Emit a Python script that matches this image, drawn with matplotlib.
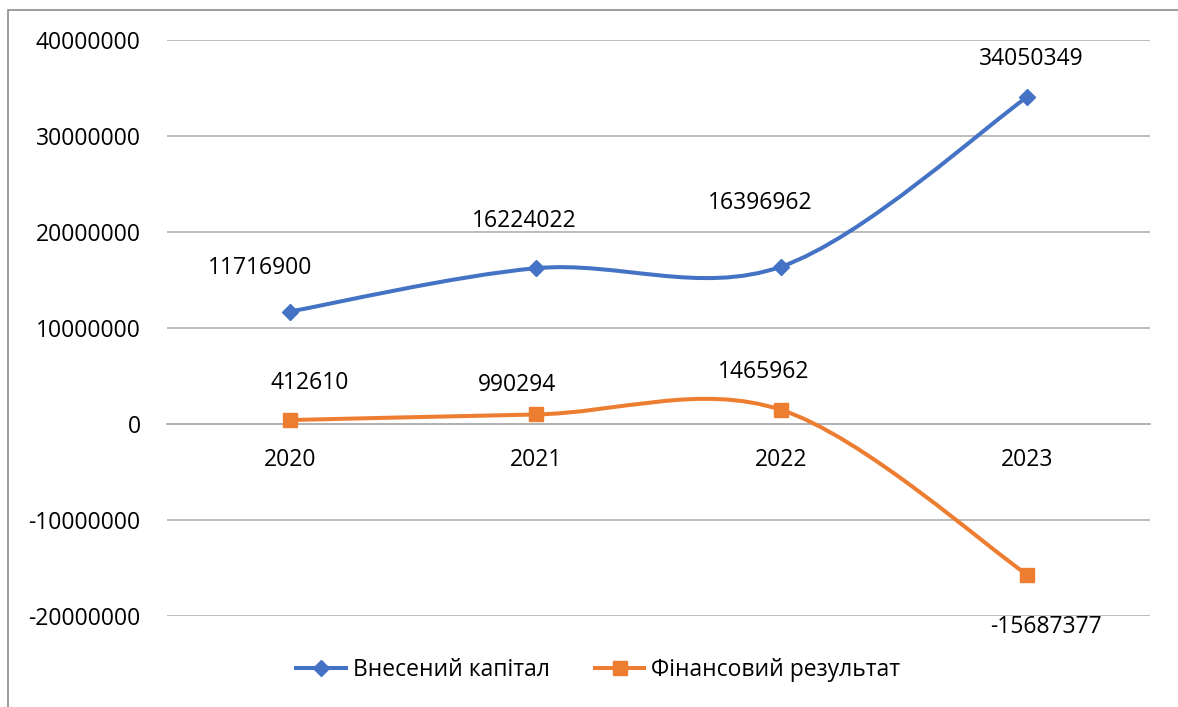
import matplotlib.pyplot as plt
from matplotlib.path import Path
from matplotlib.patches import PathPatch, Rectangle
from matplotlib.lines import Line2D

years = ['2020', '2021', '2022', '2023']
capital = [11716900, 16224022, 16396962, 34050349]
result = [412610, 990294, 1465962, -15687377]
series_names = ['Внесений капітал', 'Фінансовий результат']

# label offsets in pixels (Excel labels were nudged by hand)
capital_offsets = [(-30, 44), (-11, 47), (-21, 64), (4, 38)]
result_offsets = [(20, 37), (-19, 29), (-18, 38), (19, -52)]

blue = '#4472C4'
orange = '#ED7D31'
grid_col = '#B0B0B0'

plt.rcParams['font.family'] = ['Open Sans', 'DejaVu Sans']


def smooth_path(xs, ys):
    # Catmull-Rom style bezier, like Excel's smoothed line
    pts = list(zip(xs, ys))
    verts = [pts[0]]
    codes = [Path.MOVETO]
    n = len(pts)
    for i in range(n - 1):
        p0 = pts[i - 1] if i > 0 else pts[i]
        p1 = pts[i]
        p2 = pts[i + 1]
        p3 = pts[i + 2] if i + 2 < n else pts[i + 1]
        c1 = (p1[0] + (p2[0] - p0[0]) / 6, p1[1] + (p2[1] - p0[1]) / 6)
        c2 = (p2[0] - (p3[0] - p1[0]) / 6, p2[1] - (p3[1] - p1[1]) / 6)
        verts += [c1, c2, p2]
        codes += [Path.CURVE4] * 3
    return Path(verts, codes)


fig = plt.figure(figsize=(11.78, 7.07), dpi=100)
ax = fig.add_axes([167 / 1178, 1 - 616 / 707, (1150 - 167) / 1178, (616 - 40) / 707])

x = list(range(len(years)))

for vals, col, mk, ms, offs in [(capital, blue, 'D', 8, capital_offsets),
                                (result, orange, 's', 9.5, result_offsets)]:
    ax.add_patch(PathPatch(smooth_path(x, vals), fill=False, edgecolor=col,
                           lw=2.9, capstyle='round', zorder=3))
    ax.plot(x, vals, ls='none', marker=mk, ms=ms, color=col, zorder=4)
    for xi, v, off in zip(x, vals, offs):
        ax.annotate(str(v), (xi, v), xytext=off, textcoords='offset pixels',
                    ha='center', va='center', fontsize=16.5, color='#000000')

ax.set_xlim(-0.5, 3.5)
ax.set_ylim(-20000000, 40000000)
ax.set_yticks(range(-20000000, 40000001, 10000000))
ax.yaxis.set_major_formatter(plt.FuncFormatter(lambda v, p: f'{int(v)}'))
ax.grid(axis='y', color=grid_col, lw=1.2)
ax.set_axisbelow(True)

ax.set_xticks(x)
ax.set_xticklabels(years)
for s in ['top', 'right', 'left']:
    ax.spines[s].set_visible(False)
ax.spines['bottom'].set_position(('data', 0))
ax.spines['bottom'].set_color(grid_col)
ax.spines['bottom'].set_linewidth(1.2)
ax.tick_params(axis='x', length=0, pad=17, labelsize=16.5)
ax.tick_params(axis='y', length=0, pad=19, labelsize=16.5)

handles = [Line2D([0], [0], color=blue, lw=2.9, marker='D', ms=8),
           Line2D([0], [0], color=orange, lw=2.9, marker='s', ms=9.5)]
fig.legend(handles, series_names, loc='center', bbox_to_anchor=(0.508, 1 - 670 / 707),
           ncol=2, frameon=False, fontsize=16.5, handlelength=2.15,
           handletextpad=0.3, columnspacing=2.0)

# chart border (only top/left visible in the crop)
fig.patches.append(Rectangle((8 / 1178, -0.5), 2, 0.5 + 1 - 10 / 707,
                             transform=fig.transFigure, fill=False,
                             edgecolor='#8C8C8C', lw=1.2))

fig.savefig('out.png', dpi=100)
